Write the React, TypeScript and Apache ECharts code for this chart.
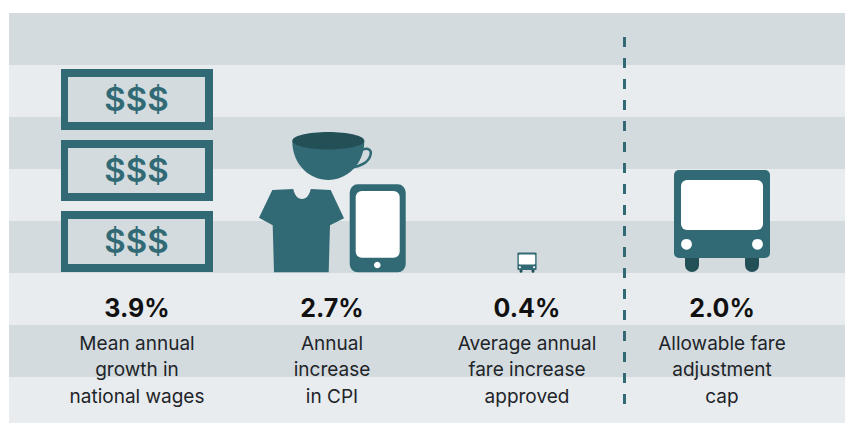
import React, { useEffect, useRef } from "react";
import * as echarts from "echarts";

const values = [3.9, 2.7, 0.4, 2.0];
const iconKinds = ["bills", "goods", "bus", "bus"];
const descriptions = [
  ["Mean annual", "growth in", "national wages"],
  ["Annual", "increase", "in CPI"],
  ["Average annual", "fare increase", "approved"],
  ["Allowable fare", "adjustment", "cap"],
];
const dividerX = 2.5;
const dividerY = [4.538, -2.52];

const TEAL = "#316A75";
const DEEP = "#234F57";
const BAND_D = "#D3DBDE";
const BAND_L = "#E8ECEF";
const WHITE = "#FFFFFF";
const TEXT = "#1E2429";
const FONT = "Inter";

const NATURAL: Record<string, number> = { bills: 202.8, goods: 140.4, bus: 104 };

function billsIcon() {
  const kids: any[] = [];
  [-204, -133, -62].forEach((top) => {
    kids.push({ type: "rect", shape: { x: -76, y: top, width: 152, height: 61 }, style: { fill: TEAL } });
    kids.push({ type: "rect", shape: { x: -69, y: top + 8, width: 137, height: 45 }, style: { fill: BAND_D } });
    kids.push({
      type: "text",
      x: -0.5,
      y: top + 30,
      style: { text: "$$$", fill: TEAL, font: `600 33px ${FONT}`, align: "center", verticalAlign: "middle" },
    });
  });
  return kids;
}

function goodsIcon() {
  return [
    { type: "path", shape: { pathData: "M30 -123 C36 -126 40 -123 38.5 -118 C37 -111 28 -106 19 -105.5" }, style: { fill: "none", stroke: TEAL, lineWidth: 2.5 } },
    { type: "path", shape: { pathData: "M-39.7 -132 C-39.7 -108 -22 -93 -3.7 -93 C14 -93 32.3 -108 32.3 -132 Z" }, style: { fill: TEAL } },
    { type: "ellipse", shape: { cx: -3.7, cy: -132.3, rx: 36, ry: 8.7 }, style: { fill: DEEP } },
    { type: "path", shape: { pathData: "M-38.7 -84 C-37.5 -78 -34.5 -74 -30 -74 C-25.5 -74 -22.5 -78 -21.3 -84 L-1.3 -83 L12 -54.7 L-2 -47.7 L-3.3 -0.7 L-58 -0.7 L-59.3 -47.7 L-73 -55.3 L-59.7 -83 Z" }, style: { fill: TEAL } },
    { type: "rect", shape: { x: 17.7, y: -88.7, width: 56, height: 88, r: 8 }, style: { fill: TEAL } },
    { type: "rect", shape: { x: 23.7, y: -82, width: 44, height: 66.7, r: 6 }, style: { fill: WHITE } },
    { type: "circle", shape: { cx: 45.3, cy: -8, r: 3.3 }, style: { fill: WHITE } },
  ];
}

function busIcon() {
  return [
    { type: "rect", shape: { x: -37, y: -17, width: 14, height: 16, r: [0, 0, 7, 7] }, style: { fill: DEEP } },
    { type: "rect", shape: { x: 23, y: -17, width: 14, height: 16, r: [0, 0, 7, 7] }, style: { fill: DEEP } },
    { type: "rect", shape: { x: -48, y: -103, width: 96, height: 88, r: 5 }, style: { fill: TEAL } },
    { type: "rect", shape: { x: -41, y: -93, width: 82, height: 50, r: 6 }, style: { fill: WHITE } },
    { type: "circle", shape: { cx: -35.5, cy: -28.7, r: 5.4 }, style: { fill: WHITE } },
    { type: "circle", shape: { cx: 35.5, cy: -28.7, r: 5.4 }, style: { fill: WHITE } },
  ];
}

const ICONS: Record<string, () => any[]> = { bills: billsIcon, goods: goodsIcon, bus: busIcon };

export default function App() {
  const ref = useRef<HTMLDivElement>(null);
  useEffect(() => {
    const chart = echarts.init(ref.current!, undefined, { renderer: "svg" });
    chart.setOption({
      animation: false,
      backgroundColor: WHITE,
      tooltip: { show: false },
      grid: { left: 9, top: 13, width: 836, height: 416 },
      xAxis: { type: "value", min: -0.65641, max: 3.63077, show: false },
      yAxis: {
        type: "value",
        min: -3,
        max: 5,
        interval: 1,
        axisLine: { show: false },
        axisTick: { show: false },
        axisLabel: { show: false },
        splitLine: { show: false },
        splitArea: { show: true, areaStyle: { color: [BAND_L, BAND_D] } },
      },
      series: [
        {
          type: "custom",
          silent: true,
          clip: false,
          data: values.map((v, i) => [i, v]),
          renderItem: (params: any, api: any) => {
            const i = params.dataIndex;
            const [x, y] = api.coord([api.value(0), 0]);
            const h = api.size([0, api.value(1)])[1];
            const kind = iconKinds[i];
            const s = h / NATURAL[kind];
            return { type: "group", x, y, scaleX: s, scaleY: s, children: ICONS[kind]() };
          },
        },
        {
          type: "custom",
          silent: true,
          clip: false,
          data: values.map((v, i) => [i, v]),
          renderItem: (params: any, api: any) => {
            const i = params.dataIndex;
            const [x, y] = api.coord([api.value(0), 0]);
            const children: any[] = [
              {
                type: "text",
                x,
                y: y + 35,
                style: { text: `${values[i].toFixed(1)}%`, fill: "#111", font: `700 25px ${FONT}`, align: "center", verticalAlign: "middle" },
              },
            ];
            descriptions[i].forEach((line, k) => {
              children.push({
                type: "text",
                x,
                y: y + 70 + k * 26.5,
                style: { text: line, fill: TEXT, font: `400 19px ${FONT}`, align: "center", verticalAlign: "middle" },
              });
            });
            return { type: "group", children };
          },
        },
        {
          type: "line",
          silent: true,
          symbol: "none",
          clip: false,
          data: dividerY.map((v) => [dividerX, v]),
          lineStyle: { color: TEAL, width: 3, type: [10, 11] },
        },
      ],
    });
    return () => chart.dispose();
  }, []);
  return (
    <div style={{ position: "absolute", left: 0, top: 0, width: 845, height: 423, overflow: "hidden" }}>
      <div ref={ref} style={{ width: 845, height: 429 }} />
    </div>
  );
}
